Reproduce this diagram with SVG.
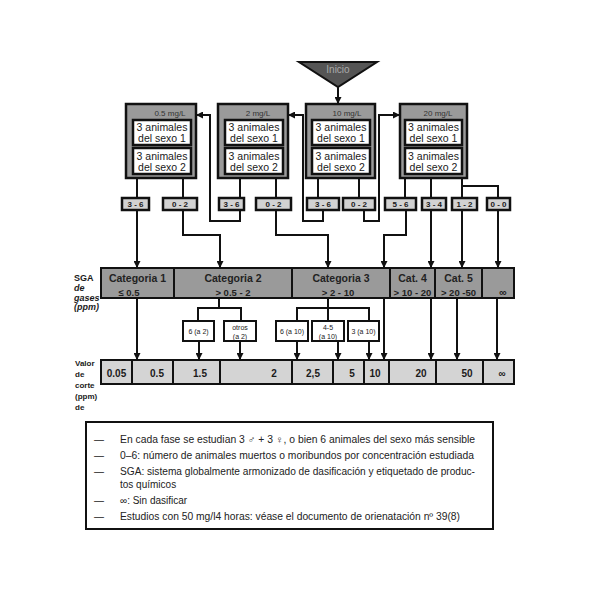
<svg xmlns="http://www.w3.org/2000/svg" width="599" height="589" viewBox="0 0 599 589">
<style>
text{font-family:"Liberation Sans",Arial,"DejaVu Sans",sans-serif;fill:#1a1a1a}
.outer{fill:#9a9a9a;stroke:#111;stroke-width:2.5}
.inner{fill:#fff;stroke:#111;stroke-width:2.5}
.res{fill:#d2d2d2;stroke:#111;stroke-width:2.5}
.cat{fill:#9a9a9a;stroke:#111;stroke-width:2}
.val{fill:#d4d4d4;stroke:#111;stroke-width:2}
.sub{fill:#fff;stroke:#111;stroke-width:2}
.hdr{font-size:8px;fill:#333;text-anchor:middle}
.an{font-size:10.5px;text-anchor:middle}
.rt{font-size:8px;font-weight:bold;text-anchor:middle}
.ct{font-size:10.5px;font-weight:bold;text-anchor:middle;fill:#222}
.c2{font-size:9.5px;font-weight:bold;text-anchor:middle;fill:#222}
.st{font-size:7px;text-anchor:middle}
.vt{font-size:10px;font-weight:bold;text-anchor:middle}
.lbl{font-size:9px;font-weight:bold}
.lg{font-size:10px;fill:#222}
#conn path,#conn line{fill:none;stroke:#111;stroke-width:2}
</style>
<defs>
<marker id="ah" viewBox="0 0 10 10" refX="10" refY="5" markerWidth="3.5" markerHeight="3.5" orient="auto" markerUnits="strokeWidth">
<path d="M0,0 L10,5 L0,10 z" fill="#111"/>
</marker>
</defs>

<g id="inicio">
<polygon points="299,62 377,62 338,87" fill="#555" stroke="#111" stroke-width="2"/>
<text x="338" y="73" style="font-size:10px;fill:#aaa;text-anchor:middle">Inicio</text>
</g>

<g id="conn">
<line x1="338" y1="87" x2="338" y2="104" marker-end="url(#ah)"/>
<line x1="137" y1="178" x2="137" y2="198"/>
<line x1="183" y1="178" x2="183" y2="198"/>
<line x1="240" y1="178" x2="240" y2="198"/>
<line x1="276" y1="178" x2="276" y2="198"/>
<line x1="318" y1="178" x2="318" y2="198"/>
<line x1="359" y1="178" x2="359" y2="198"/>
<line x1="405" y1="178" x2="405" y2="198"/>
<line x1="431" y1="178" x2="431" y2="198"/>
<path d="M462,178 V198 M462,186 H498 V198"/>
<line x1="137" y1="210" x2="137" y2="268" marker-end="url(#ah)"/>
<path d="M183,210 V235 H220 V268" marker-end="url(#ah)"/>
<path d="M240,210 V221 H210 V115 H196" marker-end="url(#ah)"/>
<path d="M276,210 V235 H328 V268" marker-end="url(#ah)"/>
<path d="M323,210 V221 H303 V115 H288" marker-end="url(#ah)"/>
<path d="M364,210 V221 H379 V115 H400" marker-end="url(#ah)"/>
<path d="M406,210 V235 H384 V268" marker-end="url(#ah)"/>
<line x1="431" y1="210" x2="431" y2="268" marker-end="url(#ah)"/>
<line x1="462" y1="210" x2="462" y2="268" marker-end="url(#ah)"/>
<line x1="498" y1="210" x2="498" y2="268" marker-end="url(#ah)"/>
<line x1="137" y1="298" x2="137" y2="360" marker-end="url(#ah)"/>
<path d="M219,298 V308 M198,321 V308 H241 V321"/>
<path d="M328,298 V321 M297,321 V308 H369 V321"/>
<line x1="199" y1="341" x2="199" y2="360" marker-end="url(#ah)"/>
<line x1="240" y1="341" x2="240" y2="360" marker-end="url(#ah)"/>
<line x1="297" y1="341" x2="297" y2="360" marker-end="url(#ah)"/>
<line x1="338" y1="341" x2="338" y2="360" marker-end="url(#ah)"/>
<line x1="369" y1="341" x2="369" y2="360" marker-end="url(#ah)"/>
<line x1="384" y1="298" x2="384" y2="360" marker-end="url(#ah)"/>
<line x1="431" y1="298" x2="431" y2="360" marker-end="url(#ah)"/>
<line x1="457" y1="298" x2="457" y2="360" marker-end="url(#ah)"/>
<line x1="497" y1="298" x2="497" y2="360" marker-end="url(#ah)"/>
</g>

<g id="box1">
<rect class="outer" x="126" y="104" width="70" height="74"/>
<text class="hdr" x="170" y="116">0.5 mg/L</text>
<rect class="inner" x="133" y="120" width="58" height="25"/>
<text class="an" x="162" y="131">3 animales</text>
<text class="an" x="162" y="142">del sexo 1</text>
<rect class="inner" x="133" y="148" width="58" height="26"/>
<text class="an" x="162" y="160">3 animales</text>
<text class="an" x="162" y="171">del sexo 2</text>
</g>
<g id="box2">
<rect class="outer" x="218" y="104" width="70" height="74"/>
<text class="hdr" x="258" y="116">2 mg/L</text>
<rect class="inner" x="225" y="120" width="58" height="25"/>
<text class="an" x="254" y="131">3 animales</text>
<text class="an" x="254" y="142">del sexo 1</text>
<rect class="inner" x="225" y="148" width="58" height="26"/>
<text class="an" x="254" y="160">3 animales</text>
<text class="an" x="254" y="171">del sexo 2</text>
</g>
<g id="box3">
<rect class="outer" x="306" y="104" width="69" height="74"/>
<text class="hdr" x="347" y="116">10 mg/L</text>
<rect class="inner" x="312" y="120" width="58" height="25"/>
<text class="an" x="341" y="131">3 animales</text>
<text class="an" x="341" y="142">del sexo 1</text>
<rect class="inner" x="312" y="148" width="58" height="26"/>
<text class="an" x="341" y="160">3 animales</text>
<text class="an" x="341" y="171">del sexo 2</text>
</g>
<g id="box4">
<rect class="outer" x="400" y="104" width="67" height="74"/>
<text class="hdr" x="438" y="116">20 mg/L</text>
<rect class="inner" x="405" y="120" width="57" height="25"/>
<text class="an" x="433.5" y="131">3 animales</text>
<text class="an" x="433.5" y="142">del sexo 1</text>
<rect class="inner" x="405" y="148" width="57" height="26"/>
<text class="an" x="433.5" y="160">3 animales</text>
<text class="an" x="433.5" y="171">del sexo 2</text>
</g>

<g id="r1a"><rect class="res" x="122" y="198" width="27" height="12"/><text class="rt" x="135.5" y="207">3 - 6</text></g>
<g id="r1b"><rect class="res" x="163" y="198" width="34" height="12"/><text class="rt" x="180" y="207">0 - 2</text></g>
<g id="r2a"><rect class="res" x="219" y="198" width="25" height="12"/><text class="rt" x="231.5" y="207">3 - 6</text></g>
<g id="r2b"><rect class="res" x="256" y="198" width="35" height="12"/><text class="rt" x="273.5" y="207">0 - 2</text></g>
<g id="r3a"><rect class="res" x="307" y="198" width="32" height="12"/><text class="rt" x="323" y="207">3 - 6</text></g>
<g id="r3b"><rect class="res" x="343" y="198" width="32" height="12"/><text class="rt" x="359" y="207">0 - 2</text></g>
<g id="r4a"><rect class="res" x="385" y="198" width="31" height="12"/><text class="rt" x="400.5" y="207">5 - 6</text></g>
<g id="r4b"><rect class="res" x="422" y="198" width="24" height="12"/><text class="rt" x="434" y="207">3 - 4</text></g>
<g id="r4c"><rect class="res" x="452" y="198" width="25" height="12"/><text class="rt" x="464.5" y="207">1 - 2</text></g>
<g id="r4d"><rect class="res" x="487" y="198" width="23" height="12"/><text class="rt" x="498.5" y="207">0 - 0</text></g>

<g id="sga-label">
<text class="lbl" x="74" y="281">SGA</text>
<text class="lbl" x="74" y="291" font-style="italic">de</text>
<text class="lbl" x="74" y="301" font-style="italic">gases</text>
<text class="lbl" x="74" y="310" font-style="italic">(ppm)</text>
</g>

<g id="cat1"><rect class="cat" x="101" y="268" width="73" height="30"/><text class="ct" x="137.5" y="282">Categoria 1</text><text class="c2" x="129" y="296" text-anchor="start">≤ 0.5</text></g>
<g id="cat2"><rect class="cat" x="174" y="268" width="118" height="30"/><text class="ct" x="233" y="282">Categoria 2</text><text class="c2" x="233" y="296">&gt; 0.5  - 2</text></g>
<g id="cat3"><rect class="cat" x="292" y="268" width="98" height="30"/><text class="ct" x="341" y="282">Categoria 3</text><text class="c2" x="338" y="296">&gt; 2 - 10</text></g>
<g id="cat4"><rect class="cat" x="390" y="268" width="45" height="30"/><text class="ct" x="412.5" y="282">Cat. 4</text><text class="c2" x="412.5" y="296">&gt; 10 - 20</text></g>
<g id="cat5"><rect class="cat" x="435" y="268" width="47" height="30"/><text class="ct" x="458.5" y="282">Cat. 5</text><text class="c2" x="458.5" y="296">&gt; 20  -50</text></g>
<g id="cat6"><rect class="cat" x="482" y="268" width="32" height="30"/><text class="ct" x="503" y="296">∞</text></g>

<g id="s1"><rect class="sub" x="183" y="321" width="31" height="20"/><text class="st" x="198.5" y="334">6 (a 2)</text></g>
<g id="s2"><rect class="sub" x="224" y="321" width="32" height="20"/><text class="st" x="240" y="330">otros</text><text class="st" x="240" y="339">(a 2)</text></g>
<g id="s3"><rect class="sub" x="276" y="321" width="32" height="20"/><text class="st" x="292" y="334">6 (a 10)</text></g>
<g id="s4"><rect class="sub" x="312" y="321" width="32" height="20"/><text class="st" x="328" y="330">4-5</text><text class="st" x="328" y="339">(a 10)</text></g>
<g id="s5"><rect class="sub" x="348" y="321" width="31" height="20"/><text class="st" x="363.5" y="334">3 (a 10)</text></g>

<g id="valor-label">
<text class="lbl" x="75" y="366" style="font-size:8px">Valor</text>
<text class="lbl" x="75" y="377" style="font-size:8px">de</text>
<text class="lbl" x="75" y="388" style="font-size:8px">corte</text>
<text class="lbl" x="75" y="399" style="font-size:8px">(ppm)</text>
<text class="lbl" x="75" y="410" style="font-size:8px">de</text>
</g>

<g id="v1"><rect class="val" x="101" y="360" width="31" height="24"/><text class="vt" x="116.5" y="377">0.05</text></g>
<g id="v2"><rect class="val" x="132" y="360" width="41" height="24"/><text class="vt" x="157" y="377">0.5</text></g>
<g id="v3"><rect class="val" x="173" y="360" width="47" height="24"/><text class="vt" x="200" y="377">1.5</text></g>
<g id="v4"><rect class="val" x="220" y="360" width="72" height="24"/><text class="vt" x="274" y="377">2</text></g>
<g id="v5"><rect class="val" x="292" y="360" width="41" height="24"/><text class="vt" x="313" y="377">2,5</text></g>
<g id="v6"><rect class="val" x="333" y="360" width="31" height="24"/><text class="vt" x="352" y="377">5</text></g>
<g id="v7"><rect class="val" x="364" y="360" width="25" height="24"/><text class="vt" x="375" y="377">10</text></g>
<g id="v8"><rect class="val" x="389" y="360" width="47" height="24"/><text class="vt" x="421" y="377">20</text></g>
<g id="v9"><rect class="val" x="436" y="360" width="47" height="24"/><text class="vt" x="467" y="377">50</text></g>
<g id="v10"><rect class="val" x="483" y="360" width="31" height="24"/><text class="vt" x="502" y="377">∞</text></g>

<g id="legend">
<rect x="86" y="422" width="407" height="107" fill="#fff" stroke="#111" stroke-width="2"/>
<text class="lg" x="94" y="443">—</text>
<text class="lg" x="120" y="443" textLength="355" lengthAdjust="spacingAndGlyphs">En cada fase se estudian 3 ♂ + 3 ♀, o bien 6 animales del sexo más sensible</text>
<text class="lg" x="94" y="459">—</text>
<text class="lg" x="120" y="459" textLength="354" lengthAdjust="spacingAndGlyphs">0–6: número de animales muertos o moribundos por concentración estudiada</text>
<text class="lg" x="94" y="475">—</text>
<text class="lg" x="120" y="475" textLength="355" lengthAdjust="spacingAndGlyphs">SGA: sistema globalmente armonizado de dasificación y etiquetado de produc-</text>
<text class="lg" x="120" y="488">tos químicos</text>
<text class="lg" x="94" y="504">—</text>
<text class="lg" x="120" y="504">∞: Sin dasificar</text>
<text class="lg" x="94" y="520">—</text>
<text class="lg" x="120" y="520" textLength="340" lengthAdjust="spacingAndGlyphs">Estudios con 50 mg/l4 horas: véase el documento de orienatación nº 39(8)</text>
</g>
</svg>
